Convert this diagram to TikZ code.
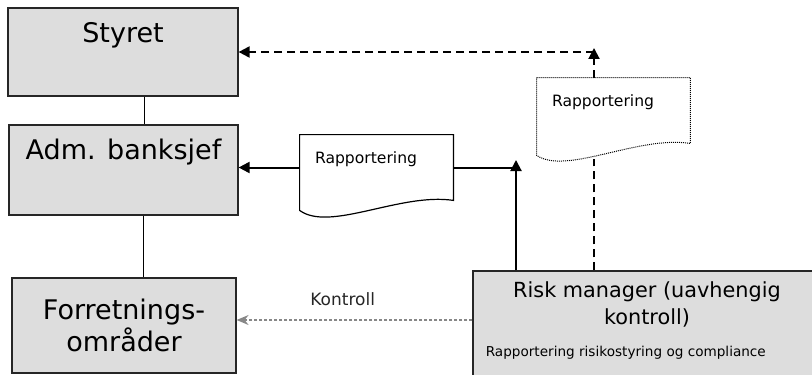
\documentclass[tikz,border=0pt]{standalone}
\usepackage{fontspec}
\setmainfont{DejaVu Sans}
\usetikzlibrary{arrows.meta,positioning}
\definecolor{boxgrey}{RGB}{221,221,221}
\definecolor{linegrey}{RGB}{135,135,135}

\begin{document}
\begin{tikzpicture}[x=0.5pt,y=-0.5pt]
\tikzstyle{box}=[draw=black!85,fill=boxgrey,line width=0.6pt,inner sep=0pt]
\tikzstyle{big}=[font=\fontsize{13.5}{13}\selectfont]
\tikzstyle{doc}=[inner sep=0pt,minimum width=76.5pt,minimum height=32.5pt]
\tikzstyle{small}=[font=\fontsize{7.8}{9}\selectfont,inner sep=0pt]
\tikzstyle{arrow}=[line width=1pt,-{Triangle[length=5.5pt,width=5.5pt]}]
\tikzstyle{dasharrow}=[arrow,dash pattern=on 4pt off 2.5pt]
\tikzstyle{kontroll}=[linegrey,line width=0.7pt,dash pattern=on 1.5pt off 1pt,-{Stealth[length=6pt,width=5pt,inset=2pt]}]
\useasboundingbox (0,0) rectangle (812,374);
\clip (0,0) rectangle (812,374);
% boksene
\node [box,minimum width=115pt,minimum height=44pt,label={[big,anchor=north,inner sep=0pt,yshift=-7.5pt]north:Styret}] (styret) at (123,52) {};
\node [box,minimum width=114.5pt,minimum height=45pt,label={[big,anchor=north,inner sep=0pt,yshift=-7pt]north:Adm. banksjef}] (adm) at (123.5,170) {};
\node [box,big,minimum width=112pt,minimum height=47.5pt,align=center] (forr) at (124,325.5) {Forretnings-\\områder};
\node [box,minimum width=174pt,minimum height=74.5pt,
  label={[anchor=north,inner sep=0pt,yshift=-5.5pt,align=center,font=\fontsize{10.4}{13.5}\selectfont]north:Risk manager (uavhengig\\kontroll)},
  label={[anchor=north west,inner sep=0pt,xshift=6.5pt,yshift=-37.8pt,font=\fontsize{6.8}{8}\selectfont]north west:Rapportering risikostyring og compliance}] (risk) at (647,345.5) {};
% rapporter
\node [doc,label={[small,anchor=north west,xshift=7.5pt,yshift=-8.5pt]north west:Rapportering}] (rapp1) at (376.5,167.5) {};
\node [doc,label={[small,anchor=north west,xshift=7.5pt,yshift=-8.5pt]north west:Rapportering}] (rapp2) at (613.5,110.5) {};
\draw [line width=0.6pt] (rapp1.north west) -- (rapp1.north east) -- (rapp1.south east) .. controls ([xshift=-26.5pt,yshift=4pt]rapp1.south east) and ([xshift=15pt,yshift=-16pt]rapp1.south west) .. ([yshift=-5pt]rapp1.south west) -- cycle;
\draw [line width=0.5pt,dash pattern=on 0.5pt off 0.5pt] (rapp2.north west) -- (rapp2.north east) -- (rapp2.south east) .. controls ([xshift=-26.5pt,yshift=4pt]rapp2.south east) and ([xshift=15pt,yshift=-16pt]rapp2.south west) .. ([yshift=-6pt]rapp2.south west) -- cycle;
% linjer
\draw [line width=0.5pt] ([xshift=10.5pt]styret.south) -- ([xshift=10.5pt]styret.south |- adm.north);
\draw [line width=0.5pt] ([xshift=9.75pt]adm.south) -- ([xshift=9.75pt]adm.south |- forr.north);
\coordinate (joint) at (516,160);
\coordinate (top) at (594,48);
\draw [arrow] (rapp1.west) -- (rapp1.west -| adm.east);
\draw [line width=1pt] (rapp1.east) -- (rapp1.east -| joint);
\draw [arrow] (risk.north -| joint) -- (joint);
\draw [dasharrow] ([xshift=-9.75pt]rapp2.north) -- (top);
\draw [dasharrow] (top |- styret.east) -- (styret.east);
\draw [line width=1pt,dash pattern=on 4pt off 2.5pt] (risk.north -| top) -- ([yshift=-8pt]rapp2.south -| top);
\draw [kontroll] ([yshift=12.75pt]risk.west) -- ([yshift=12.75pt]risk.west -| forr.east) node [pos=0.55,above=6.6pt,inner sep=0pt,text=black!85,font=\fontsize{8.5}{10}\selectfont] {Kontroll};
\end{tikzpicture}
\end{document}
